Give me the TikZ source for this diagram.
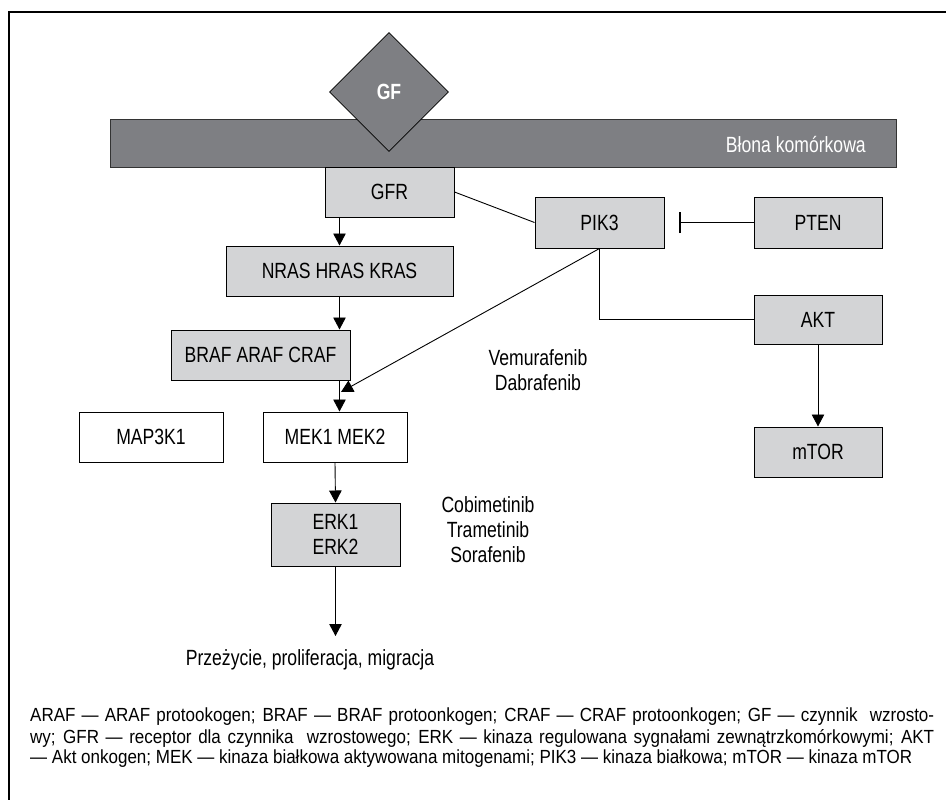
\documentclass[tikz,border=0pt]{standalone}
\usepackage{fontspec}
\setmainfont{Liberation Sans}
\newfontfamily\condf[FakeStretch=0.8]{Liberation Sans}
\newfontfamily\legf[FakeStretch=0.895]{Liberation Sans}
\usetikzlibrary{arrows.meta,shapes.geometric,calc}
\definecolor{boxgray}{HTML}{D3D4D6}
\definecolor{darkgray}{HTML}{7E7F83}
\tikzset{
  lab/.style={font=\condf\fontsize{22}{25}\selectfont},
  box/.style={lab, draw=black, line width=1pt, fill=boxgray, minimum height=50pt, inner sep=0pt},
  wbox/.style={box, fill=white},
  conn/.style={line width=0.9pt},
  arr/.style={conn, -{Triangle[width=12.5pt,length=12pt]}},
  txt/.style={lab, align=center, inner sep=0pt},
  leg/.style={font=\legf\fontsize{19}{22}\selectfont, inner sep=0pt, anchor=west}
}
\begin{document}
\begin{tikzpicture}[x=1pt,y=-1pt]
\useasboundingbox (0,0) rectangle (946,800);
\fill[white] (0,0) rectangle (946,800);
% frame
\draw[line width=2pt] (9,800) -- (9,12) -- (946,12);
% membrane
\node[draw=black!80, line width=0.6pt, fill=darkgray, minimum width=786pt, minimum height=48pt, inner sep=0pt] (membrane) at (503,143) {};
\node[lab, text=white, anchor=east, inner sep=0pt] (memlabel) at (866,145) {Błona komórkowa};
% GF diamond
\node[diamond, draw=black, line width=0.8pt, fill=darkgray, minimum width=119pt, minimum height=119pt, inner sep=0pt, text=white, font=\condf\bfseries\fontsize{22}{25}\selectfont] (gf) at (389,92) {GF};
% boxes
\node[box, minimum width=129pt] (gfr) at (389.5,192) {GFR};
\node[box, minimum width=227pt] (nras) at (339.5,271) {NRAS HRAS KRAS};
\node[box, minimum width=179pt] (braf) at (260.5,355) {BRAF ARAF CRAF};
\node[wbox, minimum width=144pt] (map) at (151,437) {MAP3K1};
\node[wbox, minimum width=144pt] (mek) at (335,437) {MEK1 MEK2};
\node[box, minimum width=129pt, minimum height=63pt, align=center] (erk) at (335.5,534.5) {ERK1\\ERK2};
\node[box, minimum width=129pt, minimum height=51pt] (pik) at (599.5,222.5) {PIK3};
\node[box, minimum width=128pt, minimum height=51pt] (pten) at (818,222.5) {PTEN};
\node[box, minimum width=128pt, minimum height=49pt] (akt) at (818,319.5) {AKT};
\node[box, minimum width=128pt] (mtor) at (818,452) {mTOR};
% texts
\node[txt] (vem) at (538,370.5) {Vemurafenib\\Dabrafenib};
\node[txt] (cobi) at (488,530) {Cobimetinib\\Trametinib\\Sorafenib};
\node[txt] (out) at (310,660) {Przeżycie, proliferacja, migracja};
% coordinates
\coordinate (pikend) at (341,392);
\coordinate (inh) at (679,222.5);
\coordinate (outtip) at (335.5,636);
% connectors
\draw[arr] (nras.north |- gfr.south) -- (nras.north);
\draw[arr] (nras.south) -- (nras.south |- braf.north);
\draw[arr] (nras.south |- braf.south) -- (nras.south |- mek.north);
\draw[arr] (pik.south) -- (pikend);
\draw[conn] (gfr.east) -- (pik.west);
\draw[conn] (pik.south) |- (akt.west);
\draw[arr] (akt.south) -- (mtor.north);
\draw[conn, -{Bar[width=21pt,line width=2pt]}] (pten.west) -- (inh);
\draw[arr] (mek.south) -- (erk.north);
\draw[arr] (erk.south) -- (outtip);
% legend
\node[leg] (leg1) at (30,717) {\makebox[904pt][s]{ARAF — ARAF protookogen; BRAF — BRAF protoonkogen; CRAF — CRAF protoonkogen; GF — czynnik \ wzrosto-}};
\node[leg] (leg2) at (30,738) {\makebox[904pt][s]{wy; GFR — receptor dla czynnika \ wzrostowego; ERK — kinaza regulowana sygnałami zewnątrzkomórkowymi; AKT}};
\node[leg] (leg3) at (30,759) {— Akt onkogen; MEK — kinaza białkowa aktywowana mitogenami; PIK3 — kinaza białkowa; mTOR — kinaza mTOR};
\end{tikzpicture}
\end{document}
